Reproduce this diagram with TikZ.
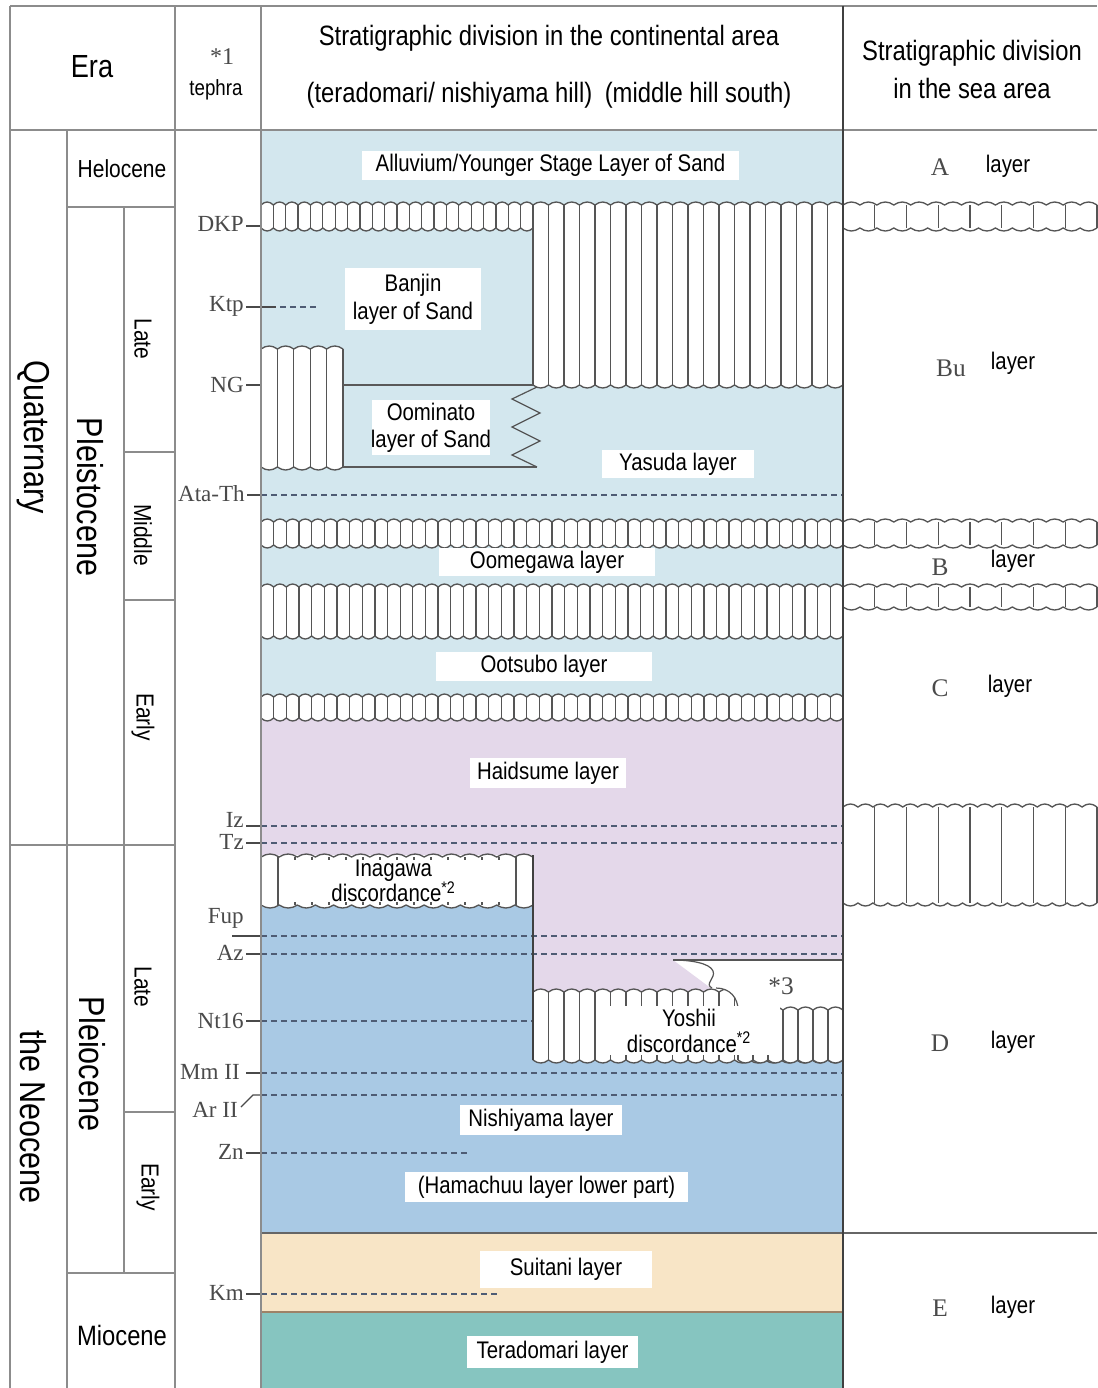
\documentclass[tikz,border=0pt]{standalone}
\usepackage{fontspec}
\setmainfont[FakeStretch=0.85]{Liberation Sans}
\newfontfamily\serifg{Liberation Serif}
\definecolor{lblue}{HTML}{D3E7EE}
\definecolor{lav}{HTML}{E4D8EA}
\definecolor{nblue}{HTML}{A9C9E4}
\definecolor{beige}{HTML}{F8E5C6}
\definecolor{tealc}{HTML}{86C5C0}
\definecolor{gridc}{HTML}{8C8C8C}
\definecolor{hatchc}{HTML}{555555}
\definecolor{dashc}{HTML}{4E5C74}
\definecolor{teph}{HTML}{4A4A4A}
\newcommand\fsz[1]{\fontsize{#1}{#1}\selectfont}
\tikzset{
  gridline/.style={gridc, line width=1.3pt},
  darkline/.style={black!75, line width=1.4pt},
  hl/.style={hatchc, line width=1pt},
  tdash/.style={dashc, line width=1.2pt, dash pattern=on 4.5pt off 3pt},
  tlead/.style={teph, line width=0.9pt},
  lt/.style={font=\fsz{18}, align=center, inner sep=0pt},
  hd/.style={font=\fsz{21}, align=center, inner sep=0pt},
  rot/.style={font=\fsz{27}, rotate=-90, inner sep=0pt},
  sub/.style={font=\fsz{18.5}, rotate=-90, inner sep=0pt},
  tp/.style={font=\serifg\fsz{17.3}, text=teph, anchor=east, inner sep=0pt},
  sl/.style={font=\serifg\fsz{19}, text=teph, inner sep=0pt},
}
% hatch band: x1 x2 y1 y2 vertical-spacing wave-period
\newcommand\hatch[6]{%
  \pgfmathtruncatemacro\hn{max(1,round((#2-#1)/#5))}%
  \pgfmathsetmacro\hs{(#2-#1)/\hn}%
  \pgfmathtruncatemacro\wn{max(1,round((#2-#1)/#6))}%
  \pgfmathsetmacro\ws{(#2-#1)/\wn}%
  \fill[white] (#1,#3) rectangle (#2,#4);
  \fill[white] (#1,#3) \foreach \k in {1,...,\wn}{ .. controls +({\ws/3},-4) and +({-\ws/3},-4) .. ({#1+\k*\ws},#3)} -- cycle;
  \fill[white] (#1,#4) \foreach \k in {1,...,\wn}{ .. controls +({\ws/3},4) and +({-\ws/3},4) .. ({#1+\k*\ws},#4)} -- cycle;
  \foreach \k in {0,...,\hn}{\draw[hl] ({#1+\k*\hs},#3) -- ({#1+\k*\hs},#4);}
  \draw[hl] (#1,#3) \foreach \k in {1,...,\wn}{ .. controls +({\ws/3},-4) and +({-\ws/3},-4) .. ({#1+\k*\ws},#3)};
  \draw[hl] (#1,#4) \foreach \k in {1,...,\wn}{ .. controls +({\ws/3},4) and +({-\ws/3},4) .. ({#1+\k*\ws},#4)};
}
% label box: x1 x2 y1 y2 name text
\newcommand\lbox[6]{%
  \fill[white] (#1,#3) rectangle (#2,#4);
  \node[lt] (#5) at ({(#1+#2)/2},{(#3+#4)/2}) {#6};
}
\begin{document}
\begin{tikzpicture}[x=0.75pt,y=-0.75pt]
\useasboundingbox (0,0) rectangle (1097,1388);
\fill[white] (0,0) rectangle (1097,1388);

% ---------- coloured layers ----------
\fill[lblue] (261,130) rectangle (843,718);
\fill[lav] (261,718) -- (843,718) -- (843,960) -- (673,960) -- (716,992) -- (533,992) -- (533,855) -- (261,855) -- cycle;
\fill[nblue] (261,905) -- (533,905) -- (533,1060) -- (843,1060) -- (843,1233) -- (261,1233) -- cycle;
\fill[beige] (261,1233) rectangle (843,1312);
\fill[tealc] (261,1312) rectangle (843,1388);
\draw[black!60, line width=1.2pt] (261,1233) -- (1097,1233);
\draw[brown!60!black!70, line width=1pt] (261,1312) -- (843,1312);

% ---------- tephra lines ----------
\node[tp] (dkp) at (244,224) {DKP};
\draw[tlead] (246,226) -- (261,226);
\node[tp] (ktp) at (244,306) {Ktp};
\draw[tlead] (246,307) -- (276,307);
\draw[tdash] (280,307) -- (318,307);
\node[tp] (ng) at (244,385) {NG};
\draw[tlead] (246,385) -- (261,385);
\node[tp] (ata) at (245,494) {Ata-Th};
\draw[tlead] (247,495) -- (261,495);
\draw[tdash] (261,495) -- (843,495);
\node[tp] (iz) at (244,820) {Iz};
\draw[tlead] (246,826) -- (261,826);
\draw[tdash] (261,826) -- (843,826);
\node[tp] (tz) at (244,842) {Tz};
\draw[tlead] (246,843) -- (261,843);
\draw[tdash] (261,843) -- (843,843);
\node[tp] (fup) at (244,918) {Fup};
\draw[tlead] (232,936) -- (261,936);
\draw[tdash] (261,936) -- (843,936);
\node[tp] (az) at (244,953) {Az};
\draw[tlead] (246,954) -- (261,954);
\draw[tdash] (261,954) -- (843,954);
\node[tp] (nt) at (244,1021) {Nt16};
\draw[tlead] (246,1021) -- (261,1021);
\draw[tdash] (261,1021) -- (533,1021);
\node[tp] (mm) at (240,1072) {Mm II};
\draw[tlead] (246,1073) -- (261,1073);
\draw[tdash] (261,1073) -- (843,1073);
\node[tp] (ar) at (238,1110) {Ar II};
\draw[tlead] (241,1107) -- (253,1095) -- (261,1095);
\draw[tdash] (261,1095) -- (843,1095);
\node[tp] (zn) at (244,1152) {Zn};
\draw[tlead] (246,1153) -- (261,1153);
\draw[tdash] (261,1153) -- (470,1153);
\node[tp] (km) at (244,1293) {Km};
\draw[tlead] (246,1294) -- (261,1294);
\draw[tdash] (261,1294) -- (500,1294);

% ---------- hatch bands (continental) ----------
\hatch{261}{533}{205}{228}{12.6}{12.6}
\hatch{533}{843}{205}{385}{15.5}{15.5}
\hatch{261}{343}{349}{467}{16.4}{16.4}
\draw[black!65, line width=0.8pt] (343,385) -- (533,385);
\draw[black!65, line width=0.8pt] (343,467) -- (537,467);
\draw[hatchc, line width=0.9pt] (537,387) -- (512,399) -- (540,413) -- (512,427) -- (540,441) -- (512,455) -- (537,467);
\hatch{261}{843}{522}{545}{12.6}{12.6}
\hatch{261}{843}{587}{636}{12.6}{12.6}
\hatch{261}{843}{697}{718}{12.6}{12.6}
\hatch{261}{533}{857}{905}{17}{18}
\hatch{533}{843}{992}{1060}{15.5}{15.5}
% *3 white pocket
\fill[white] (673,960) -- (843,960) -- (843,1010) -- (738,1010) .. controls (738,998) and (730,988) .. (716,988) -- (712,988) .. controls (704,984) and (716,978) .. (713,971) .. controls (710,963) and (690,960) .. (673,960) -- cycle;
\hatch{738}{843}{1010}{1060}{15}{15}
\draw[hatchc, line width=0.9pt] (673,960) -- (843,960);
\draw[hatchc, line width=0.9pt] (673,960) .. controls (690,960) and (710,963) .. (713,971) .. controls (716,978) and (704,984) .. (712,988);
\draw[hatchc, line width=0.9pt] (716,988) .. controls (730,988) and (738,998) .. (738,1010);
\draw[darkline] (533,855) -- (533,1060);
\node[sl] (s3) at (781,986) {*3};

% ---------- hatch bands (sea) ----------
\hatch{843}{1097}{205}{228}{33}{16.5}
\hatch{843}{1097}{522}{545}{33}{16.5}
\hatch{843}{1097}{587}{607}{33}{16.5}
\hatch{843}{1097}{807}{903}{30}{15}

% ---------- layer labels ----------
\lbox{362}{739}{151}{180}{alluv}{Alluvium/Younger Stage Layer of Sand}
\lbox{345}{481}{268}{330}{banjin}{Banjin\\[3pt]layer of Sand}
\lbox{372}{490}{400}{455}{oomin}{Oominato\\[2pt]layer of Sand}
\lbox{602}{754}{450}{478}{yasuda}{Yasuda layer}
\lbox{439}{655}{548}{576}{oomeg}{Oomegawa layer}
\lbox{436}{652}{652}{681}{ootsubo}{Ootsubo layer}
\lbox{470}{626}{758}{788}{haid}{Haidsume layer}
\lbox{282}{505}{860}{902}{inag}{Inagawa\\[-1pt]discordance\textsuperscript{*2}}
\lbox{598}{780}{1006}{1055}{yoshii}{Yoshii\\[1.5pt]discordance\textsuperscript{*2}}
\lbox{460}{622}{1105}{1135}{nishi}{Nishiyama layer}
\lbox{405}{688}{1172}{1202}{hama}{(Hamachuu layer lower part)}
\lbox{480}{652}{1251}{1288}{suit}{Suitani layer}
\lbox{467}{638}{1336}{1368}{tera}{Teradomari layer}

% ---------- sea labels ----------
\node[sl] (sA) at (940,167) {A};
\node[lt] (lA) at (1008,166) {layer};
\node[sl] (sBu) at (951,368) {Bu};
\node[lt] (lBu) at (1013,363) {layer};
\node[sl] (sB) at (940,567) {B};
\node[lt] (lB) at (1013,561) {layer};
\node[sl] (sC) at (940,688) {C};
\node[lt] (lC) at (1010,686) {layer};
\node[sl] (sD) at (940,1043) {D};
\node[lt] (lD) at (1013,1042) {layer};
\node[sl] (sE) at (940,1308) {E};
\node[lt] (lE) at (1013,1307) {layer};

% ---------- grid ----------
\draw[gridline] (10,6) -- (1097,6);
\draw[gridline] (10,130) -- (1097,130);
\draw[gridline] (10,6) -- (10,1388);
\draw[gridline] (67,130) -- (67,1388);
\draw[gridline] (124,207) -- (124,1273);
\draw[gridline] (175,6) -- (175,1388);
\draw[gridline] (261,6) -- (261,1388);
\draw[darkline] (843,6) -- (843,1388);
\draw[gridline] (67,207) -- (175,207);
\draw[gridline] (124,452) -- (175,452);
\draw[gridline] (124,600) -- (175,600);
\draw[gridline] (10,845) -- (175,845);
\draw[gridline] (124,1112) -- (175,1112);
\draw[gridline] (67,1273) -- (175,1273);

% ---------- header ----------
\node[font=\fsz{24}, inner sep=0pt] (era) at (92,67) {Era};
\node[font=\serifg\fsz{18}, text=teph, inner sep=0pt] (st1) at (222,57) {*1};
\node[font=\fsz{16.5}, inner sep=0pt] (teph) at (216,90) {tephra};
\node[hd] (ch1) at (549,38) {Stratigraphic division in the continental area};
\node[hd] (ch2) at (549,95) {(teradomari/ nishiyama hill)\hspace{0.45em}(middle hill south)};
\node[hd] (sh1) at (972,53) {Stratigraphic division};
\node[hd] (sh2) at (972,88) {in the sea area};

% ---------- time scale ----------
\node[rot] (quat) at (33,437) {Quaternary};
\node[rot] (neo) at (33,1117) {the Neocene};
\node[rot] (pleis) at (90,497) {Pleistocene};
\node[rot] (pleio) at (92,1064) {Pleiocene};
\node[font=\fsz{18.5}, inner sep=0pt] (holo) at (122,169) {Helocene};
\node[font=\fsz{21}, inner sep=0pt] (mio) at (122,1335) {Miocene};
\node[sub] (late1) at (143,339) {Late};
\node[sub] (mid1) at (143,535) {Middle};
\node[sub] (early1) at (143,717) {Early};
\node[sub] (late2) at (143,987) {Late};
\node[sub] (early2) at (148,1187) {Early};
\end{tikzpicture}
\end{document}
